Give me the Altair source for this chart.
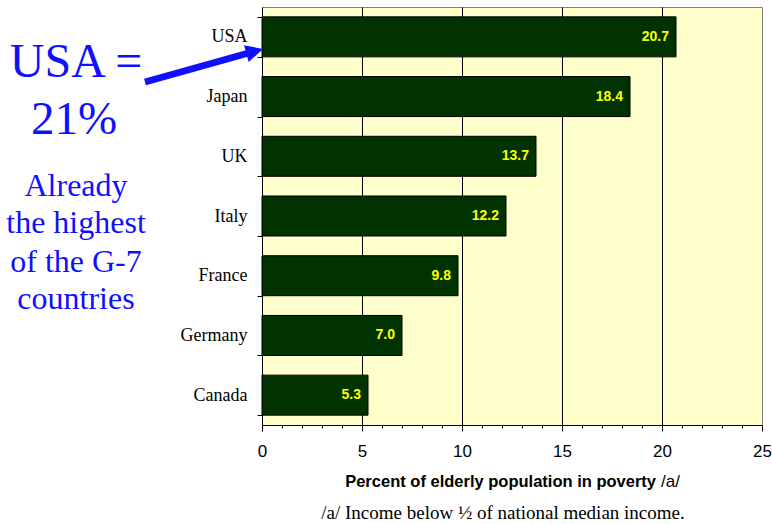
import altair as alt
import pandas as pd

countries = ["USA", "Japan", "UK", "Italy", "France", "Germany", "Canada"]
values = [20.7, 18.4, 13.7, 12.2, 9.8, 7.0, 5.3]
x_ticks = list(range(0, 26))

df = pd.DataFrame({"country": countries, "value": values})

SANS = "Liberation Sans"
SERIF = "Liberation Serif"
BLUE = "#1010FF"

x_enc = alt.X(
    "value:Q",
    scale=alt.Scale(domain=[0, 25], nice=False, zero=True),
    axis=alt.Axis(
        title=None,
        values=x_ticks,
        labelExpr="datum.value % 5 === 0 ? datum.label : ''",
        labelOverlap=False,
        labelFlush=False,
        labelFont=SANS,
        labelFontSize=17,
        labelColor="black",
        labelPadding=12,
        tickColor="black",
        tickSize={"condition": {"test": "datum.value % 5 === 0", "value": 6}, "value": 3},
        domainColor="black",
        grid=True,
        gridColor={"condition": {"test": "datum.value % 5 === 0 && datum.value > 0 && datum.value < 25", "value": "black"}, "value": "transparent"},
        gridWidth=1,
        gridOpacity=1,
    ),
)
y_enc = alt.Y(
    "country:N",
    sort=countries,
    scale=alt.Scale(paddingInner=0.33, paddingOuter=0.165),
    axis=alt.Axis(
        title=None,
        labelFont=SERIF,
        labelFontSize=18,
        labelColor="black",
        labelPadding=10,
        tickBand="extent",
        tickSize=5,
        tickColor="black",
        domainColor="black",
        grid=False,
    ),
)

bars = alt.Chart(df).mark_bar(color="#003300", stroke="black", strokeWidth=1).encode(x=x_enc, y=y_enc)
labels = alt.Chart(df).mark_text(
    align="right", baseline="middle", dx=-7, font=SANS, fontSize=14, fontWeight="bold", color="#FFFF00"
).encode(x=x_enc, y=y_enc, text=alt.Text("value:Q", format=".1f"))

one = pd.DataFrame({"a": [0]})

def txt(s, x, y, size, font, color="black", weight="normal", align="center", dx=0):
    return alt.Chart(one).mark_text(
        text=s, font=font, fontSize=size, color=color, fontWeight=weight, align=align,
        baseline="alphabetic", dx=dx
    ).encode(x=alt.value(x), y=alt.value(y))

annots = [
    txt("Percent of elderly population in poverty", 394, 480, 16.5, SANS, weight="bold", align="right"),
    txt("/a/", 394, 480, 17, SANS, align="left", dx=5),
    txt("/a/ Income below ½ of national median income.", 241, 512, 19, SERIF),
    txt("USA =", -186, 70, 48, SERIF, color=BLUE),
    txt("21%", -188, 127, 47, SERIF, color=BLUE),
    txt("Already", -186, 189, 32, SERIF, color=BLUE),
    txt("the highest", -186, 226, 32, SERIF, color=BLUE),
    txt("of the G-7", -186, 265, 32, SERIF, color=BLUE),
    txt("countries", -186, 302, 32, SERIF, color=BLUE),
]

shaft = alt.Chart(one).mark_rule(color=BLUE, strokeWidth=7, strokeCap="butt").encode(
    x=alt.value(-117), y=alt.value(75), x2=alt.value(-8), y2=alt.value(44.5)
)
head = alt.Chart(one).mark_point(
    shape="M -1 -1 L 1 0 L -1 1 Z", size=300, filled=True, color=BLUE, opacity=1, angle=344.4
).encode(x=alt.value(-7.3), y=alt.value(44.3))

chart = alt.layer(bars, labels, shaft, head, *annots).properties(
    width=500,
    height=418,
    autosize=alt.AutoSizeParams(type="none"),
    padding={"left": 262, "top": 7, "right": 10, "bottom": 99},
    background="white",
).configure_view(fill="#FFFFCC", stroke="#808080", strokeWidth=1)

chart.save("out.html", embed_options={"renderer": "svg", "actions": False})
